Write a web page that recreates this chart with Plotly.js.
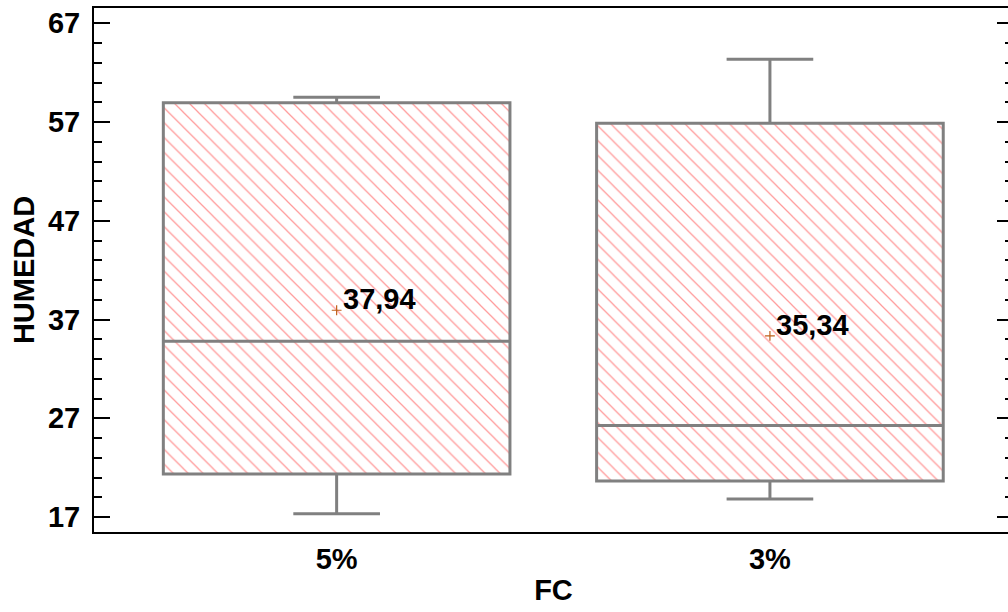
<!DOCTYPE html>
<html>
<head>
<meta charset="utf-8">
<script src="https://cdn.plot.ly/plotly-3.0.1.min.js"></script>
<style>
html, body { margin: 0; padding: 0; overflow: hidden; background: #fff; }
#chart { width: 1013px; height: 612px; }
</style>
</head>
<body>
<div id="chart"></div>
<script>
// Data
const categories = ['5%', '3%'];
const q1Values = [21.36, 20.65];
const medianValues = [34.8, 26.26];
const q3Values = [58.95, 56.87];
const lowerWhisker = [17.34, 18.82];
const upperWhisker = [59.5, 63.35];
const meanValues = [37.94, 35.34];
const meanLabels = ['37,94', '35,34'];
const yTickValues = [17, 27, 37, 47, 57, 67];

const FONT = 'Liberation Sans, Arial, sans-serif';
const FS = 29;

const hatch = {
  type: 'bar',
  x: categories,
  base: q1Values,
  y: q3Values.map((v, i) => v - q1Values[i]),
  width: 0.8,
  marker: {
    color: 'white',
    line: { width: 0 },
    pattern: { shape: '\\', fgcolor: '#ff9a9a', bgcolor: 'white', size: 10.5, solidity: 0.12, fillmode: 'replace' }
  },
  hoverinfo: 'skip',
  showlegend: false
};

const boxes = {
  type: 'box',
  x: categories,
  q1: q1Values,
  median: medianValues,
  q3: q3Values,
  lowerfence: lowerWhisker,
  upperfence: upperWhisker,
  width: 0.8,
  whiskerwidth: 0.25,
  boxpoints: false,
  fillcolor: 'rgba(0,0,0,0)',
  line: { color: '#808080', width: 3 },
  showlegend: false
};

const means = {
  type: 'scatter',
  mode: 'markers',
  x: categories,
  y: meanValues,
  marker: { symbol: 'cross-thin', size: 7, line: { color: '#c0601a', width: 1.2 }, color: '#c0601a' },
  showlegend: false
};

const annotations = categories.map((c, i) => ({
  x: c,
  y: meanValues[i],
  xref: 'x',
  yref: 'y',
  text: meanLabels[i],
  showarrow: false,
  xanchor: 'left',
  yanchor: 'bottom',
  xshift: 4,
  yshift: -7,
  font: { family: FONT, size: FS, color: '#000', weight: 'bold' }
}));

const layout = {
  width: 1013,
  height: 612,
  margin: { l: 94, r: 0, t: 8, b: 80 },
  paper_bgcolor: 'white',
  plot_bgcolor: 'white',
  showlegend: false,
  barmode: 'overlay',
  font: { family: FONT, size: FS, color: '#000', weight: 'bold' },
  annotations: annotations,
  xaxis: {
    type: 'category',
    categoryarray: categories,
    range: [-0.56, 1.561],
    showline: true,
    linecolor: '#000',
    linewidth: 2,
    mirror: true,
    ticks: '',
    showgrid: false,
    zeroline: false,
    ticklabelstandoff: 0,
    tickfont: { family: FONT, size: FS, color: '#000', weight: 'bold' },
    title: { text: 'FC', standoff: 6, font: { family: FONT, size: FS, color: '#000', weight: 'bold' } }
  },
  yaxis: {
    range: [15.48, 68.55],
    tickmode: 'array',
    tickvals: yTickValues,
    ticktext: yTickValues.map(String),
    showline: true,
    linecolor: '#000',
    linewidth: 2,
    mirror: 'ticks',
    ticks: 'inside',
    ticklen: 16,
    tickwidth: 2,
    tickcolor: '#000',
    minor: { dtick: 2, tick0: 17, ticks: 'inside', ticklen: 8, tickwidth: 2, tickcolor: '#000', showgrid: false },
    showgrid: false,
    zeroline: false,
    ticklabelstandoff: 6,
    tickfont: { family: FONT, size: FS, color: '#000', weight: 'bold' },
    title: { text: 'HUMEDAD', standoff: 5, font: { family: FONT, size: FS, color: '#000', weight: 'bold' } }
  }
};

Plotly.newPlot('chart', [hatch, boxes, means], layout, { displayModeBar: false, staticPlot: true });
</script>
</body>
</html>
